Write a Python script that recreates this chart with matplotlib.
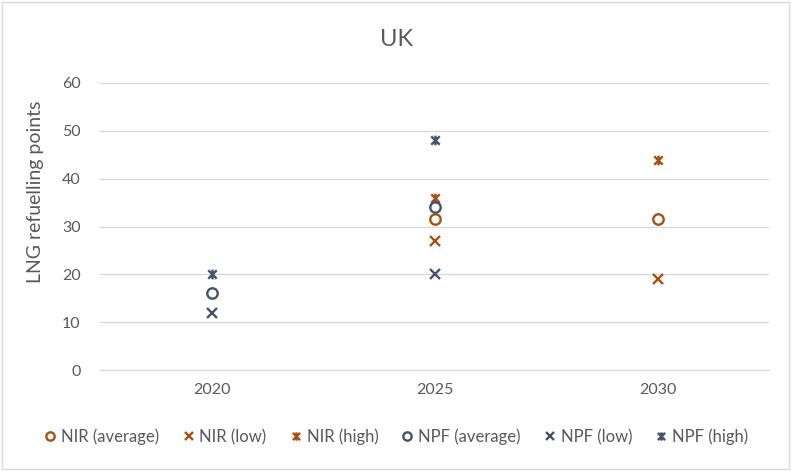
import matplotlib.pyplot as plt
import numpy as np
from matplotlib.path import Path
from matplotlib.patches import Rectangle

plt.rcParams['font.family'] = ['Lato', 'DejaVu Sans']

years = ["2020", "2025", "2030"]
# NaN = no point for that year
nir_avg = [np.nan, 31.5, 31.5]
nir_low = [np.nan, 27, 19]
nir_high = [np.nan, 36, 44]
npf_avg = [16, 34, np.nan]
npf_low = [12, 20, np.nan]
npf_high = [20, 48, np.nan]

NIR_COL = "#A84F14"
NPF_COL = "#44546A"

# Excel style "star": an x with a vertical stroke
star = Path([(-1, -1), (1, 1), (-1, 1), (1, -1), (0, -1.15), (0, 1.15)],
            [Path.MOVETO, Path.LINETO, Path.MOVETO, Path.LINETO, Path.MOVETO, Path.LINETO])

series = [
    ("NIR (average)", nir_avg, NIR_COL, "o"),
    ("NIR (low)", nir_low, NIR_COL, "x"),
    ("NIR (high)", nir_high, NIR_COL, star),
    ("NPF (average)", npf_avg, NPF_COL, "o"),
    ("NPF (low)", npf_low, NPF_COL, "x"),
    ("NPF (high)", npf_high, NPF_COL, star),
]

fig = plt.figure(figsize=(7.93, 4.71), dpi=100)
ax = fig.add_axes([100/793, 101/471, 669/793, 287/471])

x = np.arange(len(years))
for name, vals, col, mk in series:
    if mk == "o":
        ax.plot(x, vals, linestyle="none", marker="o", markersize=7.5,
                markerfacecolor="none", markeredgecolor=col, markeredgewidth=1.7, label=name)
    else:
        ax.plot(x, vals, linestyle="none", marker=mk, markersize=7,
                color=col, markeredgewidth=1.7, label=name)

ax.set_xlim(-0.5, 2.5)
ax.set_ylim(0, 60)
ax.set_yticks(range(0, 61, 10))
ax.set_xticks(x)
ax.set_xticklabels(years)
ax.yaxis.grid(True, color="#D9D9D9", linewidth=1)
ax.set_axisbelow(True)
for s in ["top", "right", "left"]:
    ax.spines[s].set_visible(False)
ax.spines["bottom"].set_color("#D9D9D9")
ax.spines["bottom"].set_linewidth(1)
ax.tick_params(length=0, labelsize=11.5, colors="#595959", pad=9)
ax.tick_params(axis="y", pad=14)
ax.set_ylabel("LNG refuelling points", fontsize=14, color="#595959")
ax.yaxis.set_label_coords(-56/669, (370 - 192)/287)

fig.text(0.5, 1 - 40/471, "UK", ha="center", va="center", fontsize=17, color="#595959")

leg = fig.legend(loc="center", bbox_to_anchor=(0.5, 1 - 437/471), ncol=6, frameon=False,
                 fontsize=12, handlelength=0.7, handletextpad=0.3, columnspacing=1.4,
                 labelcolor="#595959")
for h in leg.legend_handles:
    h.set_markersize(6)

fig.patches.append(Rectangle((2/793, 2/471), 787/793, 467/471, transform=fig.transFigure,
                             fill=False, edgecolor="#D9D9D9", linewidth=1))

fig.savefig("out.png", dpi=100)
